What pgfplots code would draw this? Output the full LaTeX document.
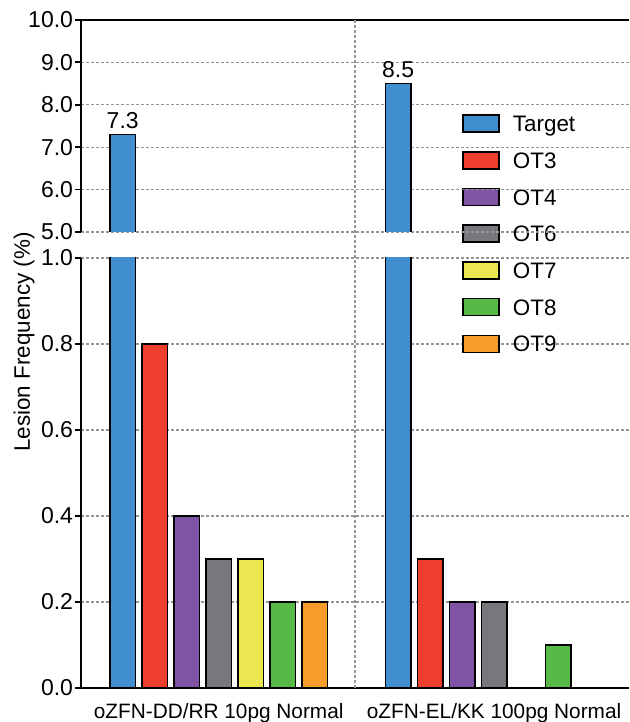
\documentclass[border=0pt]{standalone}
\usepackage{fontspec}
\setmainfont{Liberation Sans}
\usepackage{pgfplots}
\pgfplotsset{compat=1.18}
\definecolor{cT}{RGB}{64,142,206}
\definecolor{c3}{RGB}{238,62,46}
\definecolor{c4}{RGB}{127,84,164}
\definecolor{c6}{RGB}{119,120,123}
\definecolor{c7}{RGB}{234,231,80}
\definecolor{c8}{RGB}{88,185,71}
\definecolor{c9}{RGB}{246,156,42}
\definecolor{gridc}{RGB}{150,150,150}
\pgfplotsset{
  /pgf/number format/assume math mode=true,
  brk/.style={
    scale only axis, width=274pt,
    xmin=-0.5, xmax=1.49,
    axis y line*=left,
    tick align=outside,
    major tick length=3pt,
    y tick style={black, line width=0.9pt},
    axis line style={line width=1pt, black},
    ymajorgrids,
    grid style={gridc, line width=0.6pt, dash pattern=on 1.5pt off 1pt},
    yticklabel style={font=\fontsize{11.5}{13}\selectfont, inner sep=0.8pt,
      /pgf/number format/.cd, fixed, fixed zerofill, precision=1},
  }
}
\begin{document}
\begin{tikzpicture}
\path[use as bounding box] (-40.5pt,-17pt) rectangle (274pt,344pt);
\begin{axis}[brk, name=lo, at={(0,0)}, anchor=south west, height=215pt,
  ybar, bar shift=0pt, bar width=0.0926,
  ymin=0, ymax=1, ytick={0,0.2,0.4,0.6,0.8,1},
  axis x line*=bottom,
  xtick={0,1}, xticklabels={oZFN-DD/RR 10pg Normal, oZFN-EL/KK 100pg Normal},
  x tick style={draw=none},
  xticklabel style={font=\fontsize{10.4}{12}\selectfont, yshift=-1.2pt},
  legend style={draw=none, fill=none, at={(0.6953,1.3349)}, anchor=north west,
    inner sep=0pt, row sep=9.1pt, column sep=6.5pt,
    font=\fontsize{11.2}{12}\selectfont,
    nodes={inner sep=0pt, text height=8.25pt, text depth=0.25pt}},
  legend cell align=left,
  legend image code/.code={\draw[#1, line width=0.75pt] (0pt,-4.25pt) rectangle (18pt,4.25pt);},
]
\addplot[fill=cT, draw=black, line width=0.75pt] coordinates {(-0.3485,7.3) (0.6515,8.5)};
\addlegendentry{Target}
\addplot[fill=c3, draw=black, line width=0.75pt] coordinates {(-0.2323,0.8) (0.7677,0.3)};
\addlegendentry{OT3}
\addplot[fill=c4, draw=black, line width=0.75pt] coordinates {(-0.1162,0.4) (0.8838,0.2)};
\addlegendentry{OT4}
\addplot[fill=c6, draw=black, line width=0.75pt] coordinates {(0,0.3) (1,0.2)};
\addlegendentry{OT6}
\addplot[fill=c7, draw=black, line width=0.75pt] coordinates {(0.1162,0.3)};
\addlegendentry{OT7}
\addplot[fill=c8, draw=black, line width=0.75pt] coordinates {(0.2323,0.2) (1.2323,0.1)};
\addlegendentry{OT8}
\addplot[fill=c9, draw=black, line width=0.75pt] coordinates {(0.3485,0.2)};
\addlegendentry{OT9}
\end{axis}
\begin{axis}[brk, name=up, at={(0,228pt)}, anchor=south west, height=106pt,
  ymin=5, ymax=10, ytick={5,6,7,8,9,10},
  axis x line*=top, xtick=\empty,
]
\addplot[fill=cT, draw=black, line width=0.75pt] coordinates {(-0.3948,0) (-0.3948,7.3) (-0.3022,7.3) (-0.3022,0)} --cycle;
\addplot[fill=cT, draw=black, line width=0.75pt] coordinates {(0.6052,0) (0.6052,8.5) (0.6978,8.5) (0.6978,0)} --cycle;
\addplot[draw=none, mark=none, nodes near coords,
  nodes near coords style={font=\fontsize{11.5}{13}\selectfont, inner sep=2.5pt, anchor=south, black}]
  coordinates {(-0.3485,7.3) (0.6515,8.5)};
\end{axis}
\draw[gridc, line width=0.6pt, dash pattern=on 1.5pt off 1pt] (lo.south) -- (up.north);
\node[rotate=90, font=\fontsize{11.2}{13}\selectfont] at (-28.5pt,173pt) {Lesion Frequency (\%)};
\end{tikzpicture}
\end{document}
